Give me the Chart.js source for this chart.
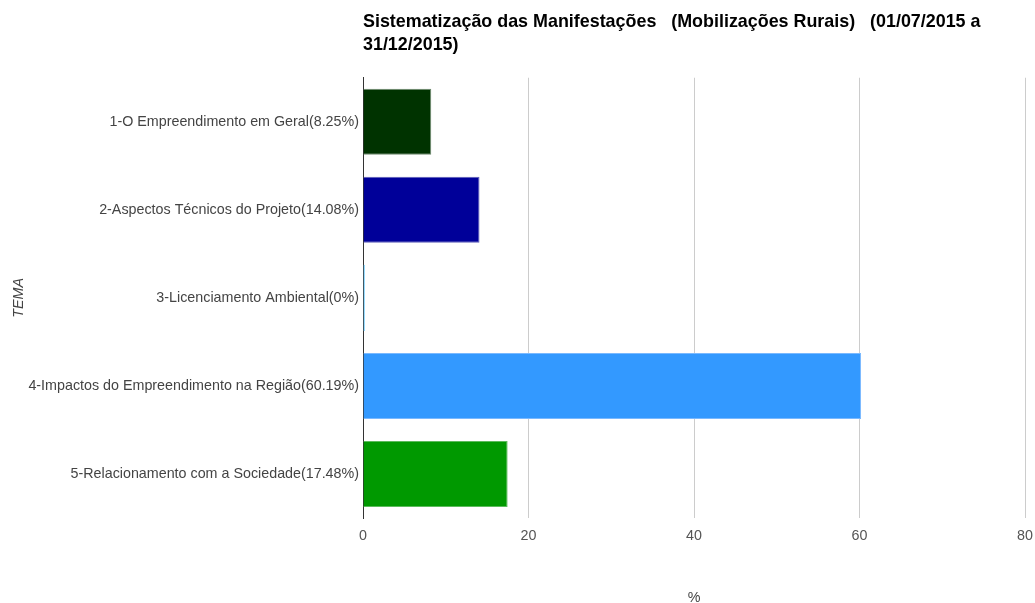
<!DOCTYPE html>
<html>
<head>
<meta charset="utf-8">
<script src="https://cdn.jsdelivr.net/npm/chart.js@4.4.1/dist/chart.umd.min.js"></script>
<style>
  html, body { margin: 0; padding: 0; background: #fff; }
  #wrap { width: 1035px; height: 603px; }
</style>
</head>
<body>
<div id="wrap"><canvas id="chart"></canvas></div>
<script>
const categories = [
    "1-O Empreendimento em Geral(8.25%)",
    "2-Aspectos Técnicos do Projeto(14.08%)",
    "3-Licenciamento Ambiental(0%)",
    "4-Impactos do Empreendimento na Região(60.19%)",
    "5-Relacionamento com a Sociedade(17.48%)"
];
const values = [8.25, 14.08, 0, 60.19, 17.48];
const barColors = ["#003300", "#000099", "#66ccff", "#3399ff", "#009900"];
const barBorders = ["#6f8a6f", "#5c5cb8", "#8fd9ff", "#7ab9ff", "#5cbb5c"];
const xTicks = [0, 20, 40, 60, 80];
const titleLines = [
    "Sistematização das Manifestações   (Mobilizações Rurais)   (01/07/2015 a",
    "31/12/2015)"
];

const FONT = "Arial, 'Liberation Sans', sans-serif";

new Chart(document.getElementById("chart"), {
    type: "bar",
    data: {
        labels: categories,
        datasets: [{
            data: values,
            backgroundColor: barColors,
            borderColor: barBorders,
            borderWidth: 1,
            borderSkipped: "start",
            barPercentage: 0.75,
            categoryPercentage: 1,
            minBarLength: 2,
        }],
    },
    options: {
        indexAxis: "y",
        responsive: true,
        maintainAspectRatio: false,
        animation: false,
        layout: { padding: { left: 0, right: 10, top: 0, bottom: -4 } },
        plugins: {
            legend: { display: false },
            tooltip: { enabled: false },
            title: {
                display: true,
                text: titleLines,
                align: "start",
                fullSize: false,
                color: "#000",
                font: { family: FONT, size: 17.9, weight: "bold", lineHeight: 1.3 },
                padding: { top: 10, bottom: 21.2 },
            },
        },
        scales: {
            x: {
                min: 0,
                max: 80,
                afterBuildTicks: (scale) => {
                    scale.ticks = xTicks.map(v => ({ value: v }));
                },
                afterFit: (scale) => {
                    scale.height = 89;
                    scale.paddingRight = 0;
                },
                grid: { color: "#cccccc", drawTicks: false },
                border: { display: false },
                ticks: { color: "#555", padding: 9, font: { family: FONT, size: 14.3 } },
                title: {
                    display: true,
                    text: "%",
                    color: "#444",
                    font: { family: FONT, size: 14.3 },
                    padding: { top: 0, bottom: 0 },
                },
            },
            y: {
                afterFit: (scale) => { scale.width = 363; },
                grid: { display: false, drawTicks: false },
                border: { display: true, color: "#333", width: 1 },
                ticks: { color: "#444", padding: 4, font: { family: FONT, size: 14.3 } },
                title: {
                    display: true,
                    text: "TEMA",
                    color: "#444",
                    font: { family: FONT, size: 14.3, style: "italic" },
                    padding: { top: 10, bottom: 0 },
                },
            },
        },
    },
});
</script>
</body>
</html>
